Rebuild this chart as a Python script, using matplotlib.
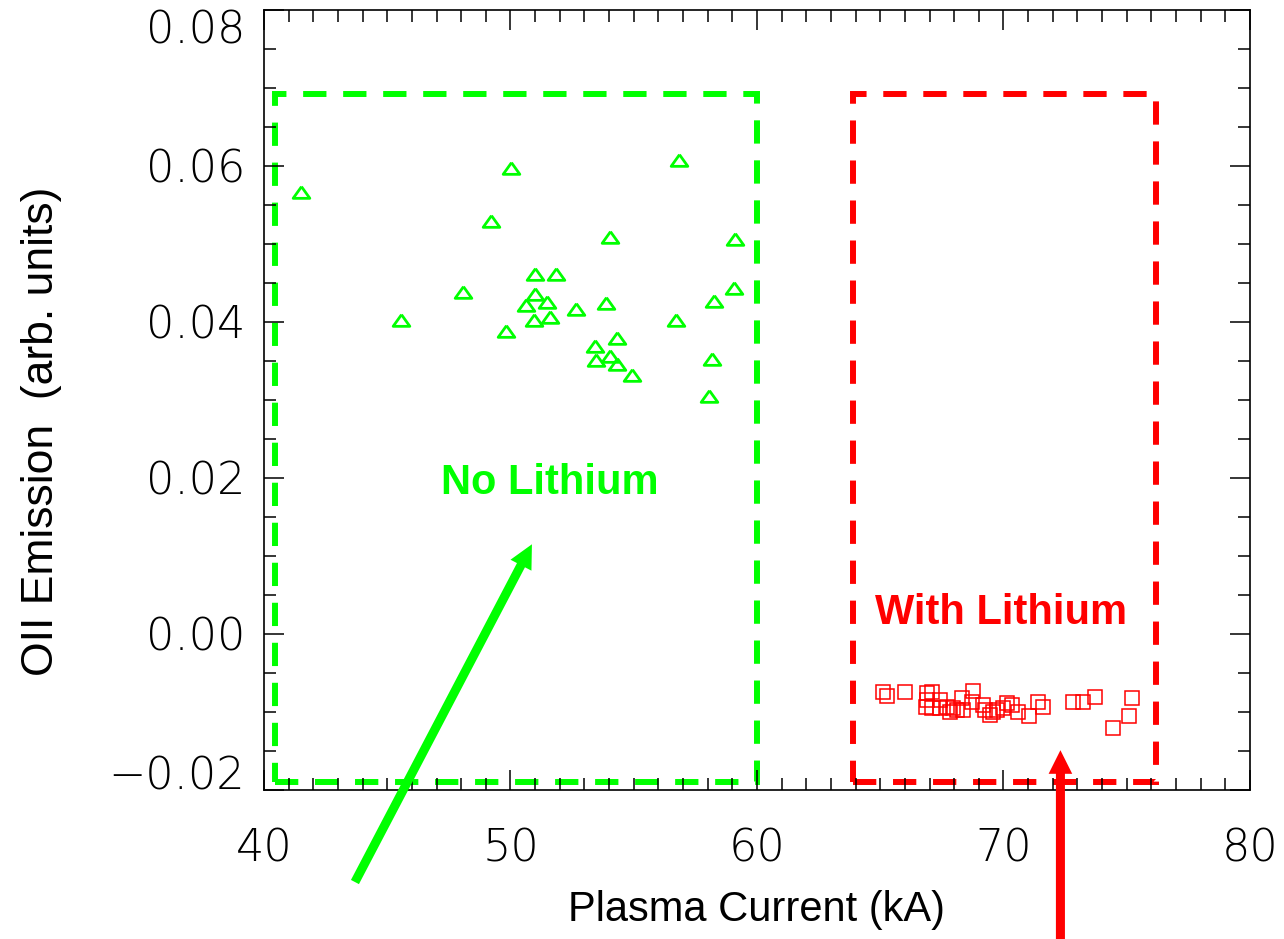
import matplotlib
matplotlib.use('Agg')
import matplotlib.pyplot as plt
from matplotlib.patches import Rectangle
from matplotlib.ticker import MultipleLocator

# OII emission vs plasma current, with / without lithium
no_li_current = [41.49, 50.02, 56.85, 49.20, 54.04, 59.11, 51.01, 51.85, 48.06, 59.07,
                 51.01, 50.63, 51.47, 58.26, 52.65, 53.87, 45.57, 50.95, 51.60, 56.70,
                 49.82, 54.32, 53.43, 53.47, 54.04, 54.31, 54.94, 58.19, 58.06]
no_li_emission = [0.0567, 0.0597, 0.0607, 0.0529, 0.0509, 0.0507, 0.0462, 0.0462, 0.0438, 0.0443,
                  0.0436, 0.0422, 0.0425, 0.0427, 0.0416, 0.0424, 0.0403, 0.0403, 0.0407, 0.0403,
                  0.0388, 0.0380, 0.0369, 0.0351, 0.0356, 0.0346, 0.0332, 0.0353, 0.0305]

li_current = [65.12, 65.26, 66.00, 66.88, 67.09, 66.88, 66.86, 67.09, 67.42, 67.70,
              67.96, 68.10, 68.30, 68.37, 68.71, 68.78, 69.18, 69.25, 69.59, 69.72,
              69.99, 70.13, 70.33, 70.60, 71.03, 71.39, 71.61, 72.83, 73.24, 73.71,
              75.20, 75.10, 74.45, 67.42, 67.83, 69.45]
li_emission = [-0.0074, -0.0080, -0.0074, -0.0076, -0.0074, -0.0085, -0.0093, -0.0095, -0.0095, -0.0093,
               -0.0095, -0.0097, -0.0082, -0.0097, -0.0087, -0.0073, -0.0091, -0.0097, -0.0100, -0.0097,
               -0.0095, -0.0089, -0.0091, -0.0100, -0.0105, -0.0087, -0.0093, -0.0087, -0.0087, -0.0081,
               -0.0082, -0.0105, -0.0121, -0.0085, -0.0100, -0.0104]

# dashed boxes (x0, x1, y0, y1)
no_li_box = (40.45, 60.0, -0.019, 0.0692)
li_box = (63.9, 76.2, -0.019, 0.0692)

x_ticks = [40, 50, 60, 70, 80]
y_ticks = [-0.02, 0.0, 0.02, 0.04, 0.06, 0.08]
y_tick_labels = ['\u22120.02', '0.00', '0.02', '0.04', '0.06', '0.08']

green = '#00FF00'
red = '#FF0000'

fig = plt.figure(figsize=(12.84, 9.39), dpi=100)
ax = fig.add_axes([0.2056, 0.1587, 0.7679, 0.8307])

tri = [(0, 0.7), (-1, -0.7), (1, -0.7), (0, 0.7)]
ax.plot(no_li_current, no_li_emission, linestyle='none', marker=tri, ms=12,
        mfc='none', mec=green, mew=2.0)
ax.plot(li_current, li_emission, linestyle='none', marker='s', ms=9.5,
        mfc='none', mec=red, mew=1.1)

for box, col in [(no_li_box, green), (li_box, red)]:
    x0, x1, y0, y1 = box
    ax.add_patch(Rectangle((x0, y0), x1 - x0, y1 - y0, fill=False, ec=col, lw=4.3,
                           linestyle=(0, (3.9, 2.8)), clip_on=False, zorder=1))

ax.text(51.6, 0.0193, 'No Lithium', color=green, fontsize=30, fontweight='bold',
        family='Liberation Sans', ha='center', va='center')
ax.text(69.9, 0.0027, 'With Lithium', color=red, fontsize=30, fontweight='bold',
        family='Liberation Sans', ha='center', va='center')

# arrows pointing at the two groups
arrow_style = 'simple,head_length=17,head_width=17,tail_width=6.5'
ax.annotate('', xy=(50.87, 0.0115), xytext=(43.69, -0.0318), xycoords='data',
            arrowprops=dict(arrowstyle=arrow_style, mutation_scale=1, fc=green, ec='none',
                            shrinkA=0, shrinkB=0), annotation_clip=False)
ax.annotate('', xy=(72.31, -0.0149), xytext=(72.31, -0.0395), xycoords='data',
            arrowprops=dict(arrowstyle=arrow_style, mutation_scale=1, fc=red, ec='none',
                            shrinkA=0, shrinkB=0), annotation_clip=False)

ax.set_xlim(40, 80)
ax.set_ylim(-0.02, 0.08)
ax.set_xticks(x_ticks)
ax.set_xticklabels([str(v) for v in x_ticks], fontweight='light')
ax.set_yticks(y_ticks)
ax.set_yticklabels(y_tick_labels, fontweight='light')
ax.xaxis.set_minor_locator(MultipleLocator(1))
ax.yaxis.set_minor_locator(MultipleLocator(0.005))
ax.tick_params(which='both', direction='in', top=True, right=True, width=1.1, color='black')
ax.tick_params(which='major', length=14.4)
ax.tick_params(which='minor', length=8.6)
ax.tick_params(axis='x', which='major', pad=27, labelsize=32)
ax.tick_params(axis='y', which='major', pad=13.7, labelsize=32)
for s in ax.spines.values():
    s.set_linewidth(1.2)

ylabs = ax.get_yticklabels()
ylabs[0].set_va('baseline')
ylabs[-1].set_va('top')

ax.set_xlabel('Plasma Current (kA)', fontsize=30, family='Liberation Sans')
ax.xaxis.set_label_coords(0.5, -0.154)
ax.xaxis.label.set_va('center')
ax.set_ylabel('OII Emission  (arb. units)', fontsize=32, family='Liberation Sans')
ax.yaxis.set_label_coords(-0.226, 0.46)
ax.yaxis.label.set_va('center')

plt.savefig('out.png', dpi=100)
